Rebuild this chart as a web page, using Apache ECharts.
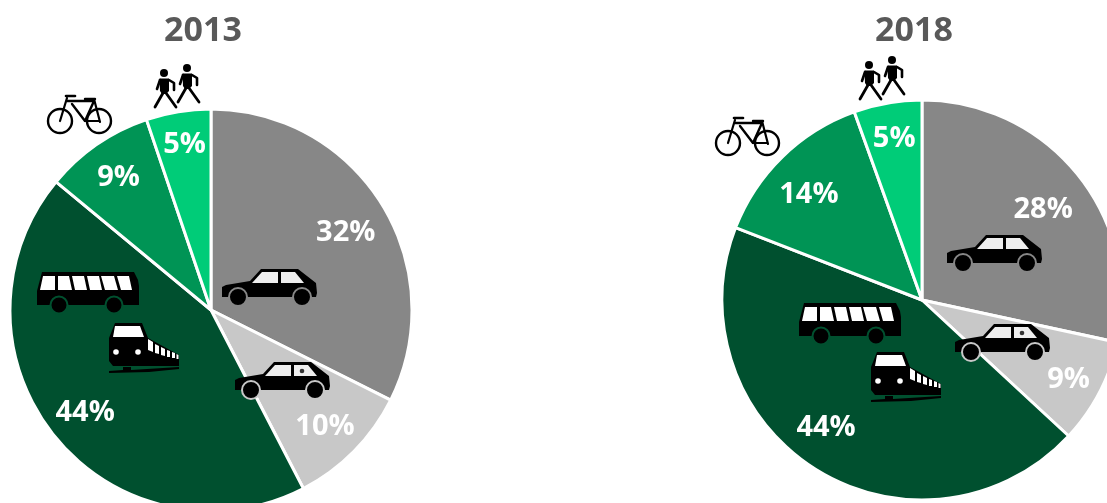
<!DOCTYPE html>
<html><head><meta charset="utf-8">
<style>html,body{margin:0;padding:0;background:#fff;overflow:hidden}#c{width:1107px;height:503px}</style>
<script src="https://cdn.jsdelivr.net/npm/echarts@6/dist/echarts.min.js"></script></head>
<body><div id="c"></div>
<script>
const modes = ['Car driver','Car passenger','Public transport','Bicycle','Walking'];
const colours = ['#878787','#c8c8c8','#00502f','#009455','#00cc78'];
const years = ['2013','2018'];
const values2013 = [32.4,10,43.6,8.8,5.2];
const values2018 = [28.4,8.5,44,13.6,5.5];
const labels2013 = ['32%','10%','44%','9%','5%'];
const labels2018 = ['28%','9%','44%','14%','5%'];
const nudges2013 = [[-4,8],[-2,2],[1,0],[0,2],[0,-4]];
const nudges2018 = [[-5,11],[3,5],[-10,-10],[0,11],[0,-2]];

const Z=20;
const poly=(pts,fill)=>({type:'polygon',z:Z,shape:{points:pts},style:{fill:fill,stroke:null},silent:true});
const line=(pts,w)=>({type:'polyline',z:Z,shape:{points:pts},style:{stroke:'#000',lineWidth:w,fill:null,lineCap:'round',lineJoin:'round'},silent:true});
const circ=(x,y,r,fill,stroke,w)=>({type:'circle',z:Z,shape:{cx:x,cy:y,r:r},style:{fill:fill,stroke:stroke||null,lineWidth:w||0},silent:true});
const group=(x,y,children)=>({type:'group',x:x,y:y,silent:true,children:children});

function car(x,y,bg,win,passenger){
  const c=[
    poly([[0,18],[4,16],[28,12],[39,0],[76,0],[94,14],[95,24],[94,28],[0,28],[0,18]],'#000'),
    poly([[30,14],[40,3],[56,3],[56,14]],win),
    poly([[59,3],[73,3],[82,14],[59,14]],win),
    circ(16,28,9,'#000',bg,2),
    circ(80,28,9,'#000',bg,2)];
  if(passenger) c.push(circ(67,9,2.3,'#333'));
  return group(x,y,c);
}
function bus(x,y,bg){
  return group(x,y,[
    poly([[5,0],[97,0],[101,8],[102,14],[102,33],[0,33],[0,19]],'#000'),
    poly([[6,4],[18,4],[18,18],[3,18]],'#fff'),
    poly([[21,4],[32,4],[35,18],[21,18]],'#fff'),
    poly([[35,4],[47,4],[50,18],[38,18]],'#fff'),
    poly([[50,4],[62,4],[65,18],[53,18]],'#fff'),
    poly([[64,4],[77,4],[81,18],[68,18]],'#fff'),
    poly([[80,4],[92,4],[95,18],[84,18]],'#fff'),
    circ(22,33,8.5,'#000',bg,2),
    circ(77,33,8.5,'#000',bg,2)]);
}
function train(x,y){
  return group(x,y,[
    poly([[6,0],[33,0],[39,15],[70,32],[70,43],[4,43],[0,38],[0,15]],'#000'),
    poly([[6,3],[31,3],[35,14],[4,14]],'#fff'),
    circ(7,29,2.8,'#fff'),circ(29,29,2.8,'#fff'),
    poly([[39,16],[44,19],[44,29],[39,27]],'#fff'),
    poly([[46,21],[50,23],[50,31],[46,30]],'#fff'),
    poly([[52,24],[56,26],[56,33],[52,32]],'#fff'),
    poly([[58,27],[61,28],[61,34],[58,34]],'#fff'),
    poly([[63,29],[66,30],[66,35],[63,35]],'#fff'),
    poly([[67.5,31],[69.5,32],[69.5,36],[67.5,36]],'#fff'),
    poly([[0,48],[14,47],[14,44],[22,44],[22,47],[70,44],[70,46],[40,49],[0,50]],'#000')]);
}
function bike(x,y){
  return group(x,y,[
    circ(12,26,12,null,'#000',2.4),circ(51,26,12,null,'#000',2.4),
    line([[12,26],[19,3]],2.2),
    line([[19,6],[46,6],[37,26],[24,9]],2.4),
    line([[37,26],[51,26]],2.2),
    line([[46,4],[52,27]],2.2),
    line([[18,1],[27,1]],2.6),
    line([[37,4],[47,4]],2.4)]);
}
function person(x,y){
  return group(x,y,[
    circ(0,0,4,'#000'),
    poly([[-4.5,5.5],[5,5.5],[5,18],[2,21],[-2,21],[-4,18]],'#000'),
    line([[-4,7],[-7,16]],2.6),
    line([[5,7],[10,10],[10,17]],2.6),
    line([[-1,20],[-9,34]],2.8),
    line([[2,20],[12,34]],2.8)]);
}
function walkers(x,y){ return group(x,y,[person(9,8),person(32,3)]); }

function pieSeries(values,labels,nudges,cx,cy,r){
  const data=values.map((v,i)=>({name:modes[i],value:v,itemStyle:{color:colours[i]}}));
  return [
    {type:'pie',center:[cx,cy],radius:[0,r],startAngle:90,clockwise:true,silent:true,animation:false,
     data:data,label:{show:false},labelLine:{show:false},
     itemStyle:{borderColor:'#fff',borderWidth:3}},
    {type:'pie',center:[cx,cy],radius:[r-82,r],startAngle:90,clockwise:true,silent:true,animation:false,
     data:data.map(d=>({name:d.name,value:d.value,itemStyle:{color:'transparent'}})),
     label:{show:true,position:'inside',formatter:p=>labels[p.dataIndex],color:'#fff',fontFamily:'Open Sans',fontWeight:'bold',fontSize:29},
     labelLayout:p=>({dx:nudges[p.dataIndex][0],dy:nudges[p.dataIndex][1]}),
     labelLine:{show:false},itemStyle:{borderWidth:0}}
  ];
}
const titleStyle={fontFamily:'Open Sans',fontWeight:'bold',fontSize:34,color:'#595959'};
const chart=echarts.init(document.getElementById('c'),null,{renderer:'canvas'});
chart.setOption({
  animation:false,
  backgroundColor:'#fff',
  title:[
    {text:years[0],left:198,top:26,textAlign:'center',textVerticalAlign:'middle',textStyle:titleStyle},
    {text:years[1],left:909,top:26,textAlign:'center',textVerticalAlign:'middle',textStyle:titleStyle}
  ],
  series:[...pieSeries(values2013,labels2013,nudges2013,211,310,201),...pieSeries(values2018,labels2018,nudges2018,922,300,200)],
  graphic:{elements:[
    car(222,269,'#878787','#eee',false),car(235,362,'#c8c8c8','#eee',true),
    bus(37,272,'#00502f'),train(109,323),bike(48,95),walkers(155,65),
    car(947,235,'#878787','#eee',false),car(955,324,'#c8c8c8','#eee',true),
    bus(799,303,'#00502f'),train(871,352),bike(716,117),walkers(860,57)
  ]}
});
</script></body></html>
